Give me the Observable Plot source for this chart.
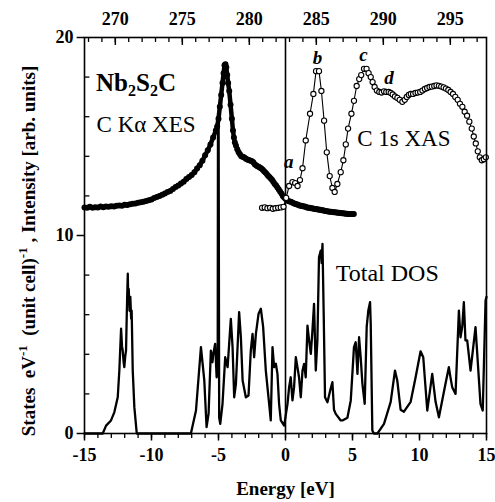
<!DOCTYPE html>
<html>
<head>
<meta charset="utf-8">
<script src="https://cdn.jsdelivr.net/npm/d3@7"></script>
<script src="https://cdn.jsdelivr.net/npm/@observablehq/plot@0.6"></script>
<style>
  html, body { margin: 0; padding: 0; background: #fff; }
  svg text { font-family: "Liberation Serif", "Times New Roman", serif; }
</style>
</head>
<body>
<div id="chart"></div>
<script>
// ---- data ----
const dosE = [-15,-13.64,-13.39,-13.02,-12.77,-12.52,-12.4,-12.27,-12.2,-12.15,-12.08,-12.03,-11.96,-11.9,-11.84,-11.77,-11.73,-11.7,-11.64,-11.58,-11.52,-11.48,-11.4,-11.28,-11.1,
  -7.06,-6.68,-6.31,-6.06,-5.89,-5.74,-5.57,-5.45,-5.39,-5.25,-5.14,-5.06,-5.04,-4.99,-4.95,-4.87,-4.7,-4.5,-4.32,-4.08,-3.95,-3.83,-3.7,-3.46,-3.33,-3.2,-2.96,-2.76,-2.59,-2.46,-2.34,-2.21,-2.01,-1.84,-1.67,-1.47,-1.22,-1.1,
  -0.97,-0.85,-0.72,-0.6,-0.48,-0.35,-0.1,0.15,0.27,0.39,0.52,0.64,0.77,0.89,1.01,1.14,1.27,1.39,1.51,1.64,1.76,1.89,2.01,2.13,2.26,2.38,2.5,2.63,2.7,2.76,2.85,2.95,3.13,3.38,3.5,3.62,3.75,4.12,4.25,4.62,4.87,
  5.11,5.24,5.37,5.49,5.61,5.74,5.91,6.06,6.18,6.31,6.36,6.48,6.6,6.86,7.35,7.85,8.17,8.34,8.59,8.84,9.34,9.71,10.08,10.28,10.58,10.95,11.2,11.45,11.94,12.19,12.32,12.44,12.69,12.94,13.06,13.19,13.31,13.43,13.56,13.81,14.18,14.31,14.55,14.72,14.93,15];
const dosV = [0,0,0.4,0.66,1.08,1.83,3.18,5.29,4.4,4.19,3.6,3.35,3.9,4.19,6.2,8.07,6.6,7.3,6.2,6.9,5.8,6.21,3.18,1.33,0,
  0,1.16,4.36,2.68,0.32,1.0,4.19,3.6,4.02,4.53,2.84,3.2,15.7,15.7,0.8,0.49,1.5,3.85,3.35,5.79,4.36,1.83,2.51,6.13,4.86,2.68,1.83,1.92,4.19,5.03,3.85,5.03,6.05,6.3,5.4,3.18,1.5,0.66,
  4.36,3.35,3.52,3.01,1.5,0.66,0.4,1.5,2.34,2.84,1.67,2.34,3.85,3.35,2.84,1.83,3.18,3.52,2.84,5.45,4.7,4.02,5.2,6.55,3.18,4.7,8.9,9.24,8.6,9.58,6.05,1.83,1.58,2.3,2.59,1.2,0.99,0.66,0.66,0.8,1.67,
  4.36,4.61,3.01,4.86,3.85,2.51,1.5,5.4,6.21,6.63,5.54,0.15,0,0,0.49,1.6,3.18,2.68,1.2,1.1,1.6,2.84,4.15,3.85,1.16,3.01,1.6,0.82,2.51,3.35,2.8,2.34,2.0,6.21,4.86,5.4,6.63,4.7,4.7,3.18,5.37,4.02,1.5,1.16,6.72,6.9];

const xesE = [-15,-14.8,-14.6,-14.4,-14.2,-14,-13.8,-13.6,-13.4,-13.2,-13,-12.8,-12.6,-12.4,-12.2,-12,-11.8,-11.6,-11.4,-11.2,-11,-10.8,-10.6,-10.4,-10.2,-10,-9.8,-9.6,-9.4,-9.2,-9,-8.8,-8.6,-8.4,-8.2,-8,-7.8,-7.6,-7.4,-7.2,-7,-6.8,-6.6,-6.4,-6.2,-6,-5.8,-5.6,-5.4,-5.2,-5.1,-5.0,-4.9,-4.8,-4.7,-4.62,-4.55,-4.48,-4.42,-4.35,-4.28,-4.2,-4.1,-4.0,-3.92,-3.85,-3.78,-3.7,-3.6,-3.5,-3.4,-3.3,-3.2,-3.1,-3,-2.9,-2.8,-2.7,-2.6,-2.5,-2.4,-2.3,-2.2,-2.1,-2,-1.9,-1.8,-1.7,-1.6,-1.5,-1.4,-1.3,-1.2,-1.1,-1,-0.9,-0.8,-0.7,-0.6,-0.5,-0.4,-0.3,-0.2,-0.1,0,0.1,0.2,0.3,0.4,0.5,0.6,0.7,0.8,0.9,1,1.1,1.2,1.3,1.4,1.5,1.6,1.7,1.8,1.9,2,2.1,2.2,2.3,2.4,2.5,2.6,2.7,2.8,2.9,3,3.1,3.2,3.3,3.4,3.5,3.6,3.7,3.8,3.9,4,4.1,4.2,4.3,4.4,4.5,4.6,4.7,4.8,4.9,5,5.1];
const xesV = [11.42,11.4,11.45,11.4,11.43,11.42,11.46,11.43,11.47,11.45,11.48,11.46,11.5,11.52,11.5,11.55,11.54,11.58,11.6,11.62,11.65,11.68,11.7,11.74,11.78,11.82,11.9,11.95,12.0,12.06,12.12,12.2,12.25,12.35,12.45,12.52,12.62,12.72,12.85,12.95,13.05,13.2,13.38,13.55,13.78,14.05,14.3,14.6,14.95,15.3,15.5,15.9,16.5,17.1,17.7,18.2,18.6,18.65,18.5,18.1,17.7,17.3,16.6,15.9,15.3,14.95,14.7,14.55,14.35,14.2,14.1,14.0,13.98,13.95,13.9,13.85,13.82,13.8,13.78,13.75,13.7,13.6,13.55,13.5,13.47,13.42,13.38,13.32,13.25,13.18,13.1,13.02,12.95,12.88,12.8,12.7,12.6,12.52,12.42,12.32,12.22,12.12,12.0,11.92,11.85,11.78,11.74,11.72,11.7,11.67,11.63,11.6,11.58,11.56,11.53,11.5,11.5,11.48,11.47,11.45,11.42,11.4,11.4,11.38,11.37,11.35,11.34,11.33,11.32,11.3,11.3,11.28,11.27,11.25,11.24,11.22,11.21,11.2,11.2,11.19,11.18,11.17,11.16,11.15,11.15,11.14,11.13,11.12,11.11,11.1,11.1,11.09,11.09,11.08,11.08,11.08];

const xasE = [-1.75,-1.55,-1.35,-1.15,-0.95,-0.75,-0.55,-0.35,-0.15,0.05,0.27,0.52,0.72,0.9,1.08,1.27,1.51,1.83,2.08,2.28,2.5,2.68,2.88,3.08,3.3,3.5,3.67,3.87,4.12,4.32,4.5,4.67,4.92,5.11,5.31,5.5,5.65,5.86,6.05,6.2,6.36,6.5,6.65,6.82,7.0,7.17,7.35,7.52,7.7,7.85,8.0,8.17,8.35,8.52,8.72,8.9,9.05,9.2,9.35,9.52,9.7,9.87,10.05,10.22,10.4,10.57,10.75,10.92,11.1,11.27,11.45,11.62,11.8,11.97,12.15,12.32,12.5,12.67,12.85,13.02,13.2,13.37,13.55,13.72,13.9,14.05,14.2,14.35,14.5,14.65,14.8,14.95];
const xasV = [11.4,11.42,11.38,11.4,11.35,11.38,11.4,11.42,11.45,11.9,12.5,12.7,12.65,12.5,12.8,13.4,14.8,16.15,17.15,18.3,18.3,17.3,15.8,14.2,13.0,12.4,12.2,12.6,13.2,13.8,14.6,15.4,16.15,16.8,17.55,17.9,18.1,18.42,18.42,18.2,18.0,17.75,17.5,17.32,17.25,17.22,17.28,17.25,17.25,17.2,17.12,17.02,16.95,16.85,16.75,16.85,17.0,17.1,17.15,17.15,17.2,17.22,17.25,17.32,17.4,17.45,17.5,17.52,17.55,17.58,17.56,17.52,17.48,17.42,17.35,17.25,17.15,17.0,16.85,16.65,16.5,16.25,16.05,15.75,15.4,15.0,14.65,14.25,13.95,13.8,13.85,13.95];

const xMajor = [-15,-10,-5,0,5,10,15];
const xMinor = d3.range(-15, 16, 1);
const yMajor = [0,10,20];
const yMinor = [2,4,6,8,12,14,16,18];
const topOffset = 282.7;           // photon energy of the Fermi level (eV)
const topMajor = [270,275,280,285,290,295];
const topMinor = d3.range(268, 298, 1);

const dos = dosE.map((e,i) => ({e, v: dosV[i]}));
const xes = xesE.map((e,i) => ({e, v: xesV[i]}));
const xas = xasE.map((e,i) => ({e, v: xasV[i]}));

const annotations = [
  {e: -14.1, v: 15.6, text: "C K\u03b1 XES", size: 23},
  {e: 5.35, v: 14.9, text: "C 1s XAS", size: 23},
  {e: 3.75, v: 8.1, text: "Total DOS", size: 24},
];
const peakLabels = [
  {e: 0.25, v: 13.7, text: "a"},
  {e: 2.38, v: 18.95, text: "b"},
  {e: 5.81, v: 19.1, text: "c"},
  {e: 7.72, v: 17.95, text: "d"},
];

const plot = Plot.plot({
  width: 495,
  height: 502,
  marginLeft: 84,
  marginRight: 9,
  marginTop: 37,
  marginBottom: 69,
  x: {domain: [-15, 15], axis: null},
  y: {domain: [0, 20], axis: null},
  style: {fontFamily: "Liberation Serif", background: "#fff", overflow: "visible", color: "#000"},
  marks: [
    // ticks
    Plot.ruleX(xMinor, {x: d => d, y1: 0, y2: -0.25, stroke: "#000", strokeWidth: 1.3}),
    Plot.ruleX(xMajor, {x: d => d, y1: 0, y2: -0.38, stroke: "#000", strokeWidth: 1.5}),
    Plot.ruleX(topMinor, {x: d => d - topOffset, y1: 20, y2: 19.75, stroke: "#000", strokeWidth: 1.3}),
    Plot.ruleX(topMajor, {x: d => d - topOffset, y1: 20, y2: 19.6, stroke: "#000", strokeWidth: 1.5}),
    Plot.ruleY(yMinor, {y: d => d, x1: -15, x2: -14.6, stroke: "#000", strokeWidth: 1.3}),
    Plot.ruleY(yMajor, {y: d => d, x1: -15, x2: -15.55, stroke: "#000", strokeWidth: 1.5}),
    // tick labels
    Plot.text(xMajor, {x: d => d, y: 0, dy: 22, text: d => String(d), fontSize: 18, fontWeight: "bold"}),
    Plot.text(topMajor, {x: d => d - topOffset, y: 20, dy: -18, text: d => String(d), fontSize: 18, fontWeight: "bold"}),
    Plot.text(yMajor, {x: -15, y: d => d, dx: -11, textAnchor: "end", text: d => String(d), fontSize: 18, fontWeight: "bold"}),
    Plot.text(["Energy [eV]"], {x: 0, y: 0, dy: 55, text: d => d, fontSize: 19, fontWeight: "bold"}),
    // Fermi level
    Plot.ruleX([0], {x: d => d, y1: 0, y2: 20, stroke: "#000", strokeWidth: 1.6}),
    // total DOS
    Plot.line(dos, {x: "e", y: "v", stroke: "#000", strokeWidth: 2.3}),
    // XES
    Plot.line(xes, {x: "e", y: "v", stroke: "#000", strokeWidth: 4.5}),
    Plot.dot(xes, {x: "e", y: "v", r: 3, fill: "#000", stroke: "none"}),
    // XAS
    Plot.line(xas, {x: "e", y: "v", stroke: "#000", strokeWidth: 1.1}),
    Plot.dot(xas, {x: "e", y: "v", r: 2.6, fill: "#fff", stroke: "#000", strokeWidth: 1.1}),
    // annotations
    Plot.text(annotations, {x: "e", y: "v", text: "text", textAnchor: "start", fontSize: d => d.size, fontWeight: "normal", fill: "#000"}),
    Plot.text(peakLabels, {x: "e", y: "v", text: "text", fontSize: 19, fontStyle: "italic", fontWeight: "bold"}),
    Plot.frame({stroke: "#000", strokeWidth: 1.6}),
  ]
});

document.getElementById("chart").appendChild(plot);

// Compound title with subscripts, and the rotated y-axis title with superscripts
const svg = d3.select(plot);
const sx = plot.scale("x"), sy = plot.scale("y");

const nb = svg.append("text")
  .attr("x", sx.apply(-14.1))
  .attr("y", sy.apply(17.25))
  .attr("text-anchor", "start")
  .attr("font-size", 25)
  .attr("font-weight", "bold")
  .attr("fill", "#000");
nb.append("tspan").text("Nb");
nb.append("tspan").attr("font-size", 16).attr("dy", 5).text("2");
nb.append("tspan").attr("dy", -5).text("S");
nb.append("tspan").attr("font-size", 16).attr("dy", 5).text("2");
nb.append("tspan").attr("dy", -5).text("C");

const yt = svg.append("text")
  .attr("transform", `translate(35,${(sy.apply(0) + sy.apply(20)) / 2 + 16}) rotate(-90)`)
  .attr("text-anchor", "middle")
  .attr("font-size", 19)
  .attr("font-weight", "bold")
  .attr("fill", "#000")
  .attr("xml:space", "preserve");
yt.append("tspan").text("States  eV");
yt.append("tspan").attr("font-size", 13).attr("dy", -8).text("-1");
yt.append("tspan").attr("dy", 8).text("  (unit cell)");
yt.append("tspan").attr("font-size", 13).attr("dy", -8).text("-1");
yt.append("tspan").attr("dy", 8).text(" , Intensity [arb. units]");
</script>
</body>
</html>
